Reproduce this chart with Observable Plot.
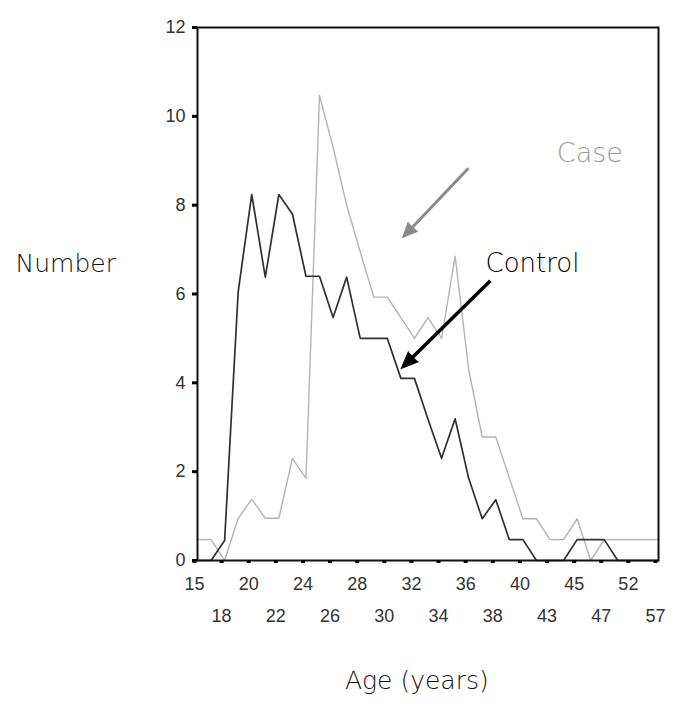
<!DOCTYPE html>
<html><head><meta charset="utf-8">
<script src="https://cdn.jsdelivr.net/npm/d3@7"></script>
<script src="https://cdn.jsdelivr.net/npm/@observablehq/plot@0.6"></script>
<style>body{margin:0;background:#fff}#chart{width:685px;height:716px}</style>
</head><body><div id="chart"></div>
<script>
// Age categories (every other one is labelled on the axis)
const ages = [15,17,18,19,20,21,22,23,24,25,26,27,28,29,30,31,32,33,34,35,36,37,38,39,40,42,43,44,45,46,47,49,52,55,57];
const caseValues = [0.47,0.47,0,0.95,1.38,0.95,0.95,2.3,1.85,10.47,9.3,8.0,6.95,5.93,5.93,5.47,5.0,5.47,5.0,6.85,4.3,2.78,2.78,1.86,0.94,0.94,0.47,0.47,0.94,0,0.47,0.47,0.47,0.47,0.47];
const controlValues = [0,0,0.45,6.05,8.24,6.38,8.24,7.8,6.4,6.4,5.47,6.38,5.0,5.0,5.0,4.1,4.1,3.18,2.3,3.19,1.85,0.94,1.37,0.47,0.47,0,0,0,0.47,0.47,0.47,0,0,0,0];
const yTicks = [0,2,4,6,8,10,12];
const yTitle = "Number";
const xTitle = "Age (years)";
// Annotation labels and arrows, in data units (category index, value)
const caseLabel = {text: "Case", i: 26.5, v: 8.98};
const controlLabel = {text: "Control", i: 21.24, v: 6.49};
const caseArrow = {x1: 19.98, y1: 8.83, x2: 15.12, y2: 7.27};
const controlArrow = {x1: 21.6, y1: 6.3, x2: 15.02, y2: 4.32};

const rows = ages.map((a, i) => ({i, age: a, caseV: caseValues[i], control: controlValues[i]}));
const row1 = ages.map((a, i) => i).filter(i => i % 4 === 0);
const row2 = ages.map((a, i) => i).filter(i => i % 4 === 2);

const layout = {width: 685, height: 716, marginTop: 27, marginBottom: 156, marginLeft: 197, marginRight: 27};
const scales = {
  x: {type: "linear", domain: [0, ages.length - 1]},
  y: {type: "linear", domain: [0, 12]}
};
const tickFont = "'Liberation Sans', Arial, sans-serif";
const style = {fontFamily: tickFont, fontSize: "18px", background: "#fff", color: "#333"};
const titleFont = "'Century Gothic', 'URW Gothic', 'DejaVu Sans', sans-serif";

function shaft(a) {
  return {x1: a.x1, y1: a.y1, x2: a.x2 + (a.x1 - a.x2) * 0.1, y2: a.y2 + (a.y1 - a.y2) * 0.1};
}

function build(angles) {
  const marks = [
    Plot.lineY(rows, {x: "i", y: "caseV", stroke: "#b3b3b3", strokeWidth: 1.4}),
    Plot.lineY(rows, {x: "i", y: "control", stroke: "#303030", strokeWidth: 1.7}),
    Plot.frame({stroke: "#111", strokeWidth: 2}),
    Plot.axisY({ticks: yTicks, tickSize: 5, tickPadding: 7, strokeWidth: 3, stroke: "#000", fill: "#333", fontSize: 18, fontFamily: tickFont, label: null}),
    Plot.axisX({ticks: row1, tickFormat: i => ages[i], tickSize: 3, strokeWidth: 4, tickPadding: 14, dx: -3, stroke: "#000", fill: "#333", fontSize: 18, fontFamily: tickFont, label: null}),
    Plot.axisX({ticks: row2, tickFormat: i => ages[i], tickSize: 3, strokeWidth: 4, tickPadding: 46, dx: -3, stroke: "#000", fill: "#333", fontSize: 18, fontFamily: tickFont, label: null}),
    Plot.text([yTitle], {frameAnchor: "left", y: [6.49], text: d => d, textAnchor: "start", lineAnchor: "bottom", dx: -182, fontSize: 25, fill: "#111", fontFamily: titleFont, fontWeight: 200}),
    Plot.text([xTitle], {frameAnchor: "bottom", text: d => d, textAnchor: "start", lineAnchor: "bottom", dx: -83, dy: 128, fontSize: 25, fill: "#111", fontFamily: titleFont, fontWeight: 200}),
    Plot.text([caseLabel], {x: "i", y: "v", text: "text", textAnchor: "start", lineAnchor: "bottom", fontSize: 27, fill: "#9a9a9a", fontFamily: titleFont, fontWeight: 200}),
    Plot.text([controlLabel], {x: "i", y: "v", text: "text", textAnchor: "start", lineAnchor: "bottom", fontSize: 26, fill: "#000", fontFamily: titleFont, fontWeight: 200}),
    Plot.link([shaft(caseArrow)], {x1: "x1", y1: "y1", x2: "x2", y2: "y2", stroke: "#8a8a8a", strokeWidth: 3}),
    Plot.link([shaft(controlArrow)], {x1: "x1", y1: "y1", x2: "x2", y2: "y2", stroke: "#000", strokeWidth: 3.5})
  ];
  if (angles) {
    marks.push(
      Plot.vector([caseArrow], {x: "x2", y: "y2", shape: "spike", anchor: "end", length: 15, r: 6.5, rotate: angles[0], fill: "#8a8a8a", stroke: "#8a8a8a", strokeWidth: 1}),
      Plot.vector([controlArrow], {x: "x2", y: "y2", shape: "spike", anchor: "end", length: 17, r: 7, rotate: angles[1], fill: "#000", stroke: "#000", strokeWidth: 1})
    );
  }
  return Plot.plot({...layout, ...scales, style, marks});
}

const first = build(null);
const sx = first.scale("x"), sy = first.scale("y");
function angle(a) {
  const dx = sx.apply(a.x2) - sx.apply(a.x1);
  const dy = sy.apply(a.y2) - sy.apply(a.y1);
  return Math.atan2(dx, -dy) * 180 / Math.PI;
}
const chart = build([angle(caseArrow), angle(controlArrow)]);
document.getElementById("chart").appendChild(chart);
</script>
</body></html>
